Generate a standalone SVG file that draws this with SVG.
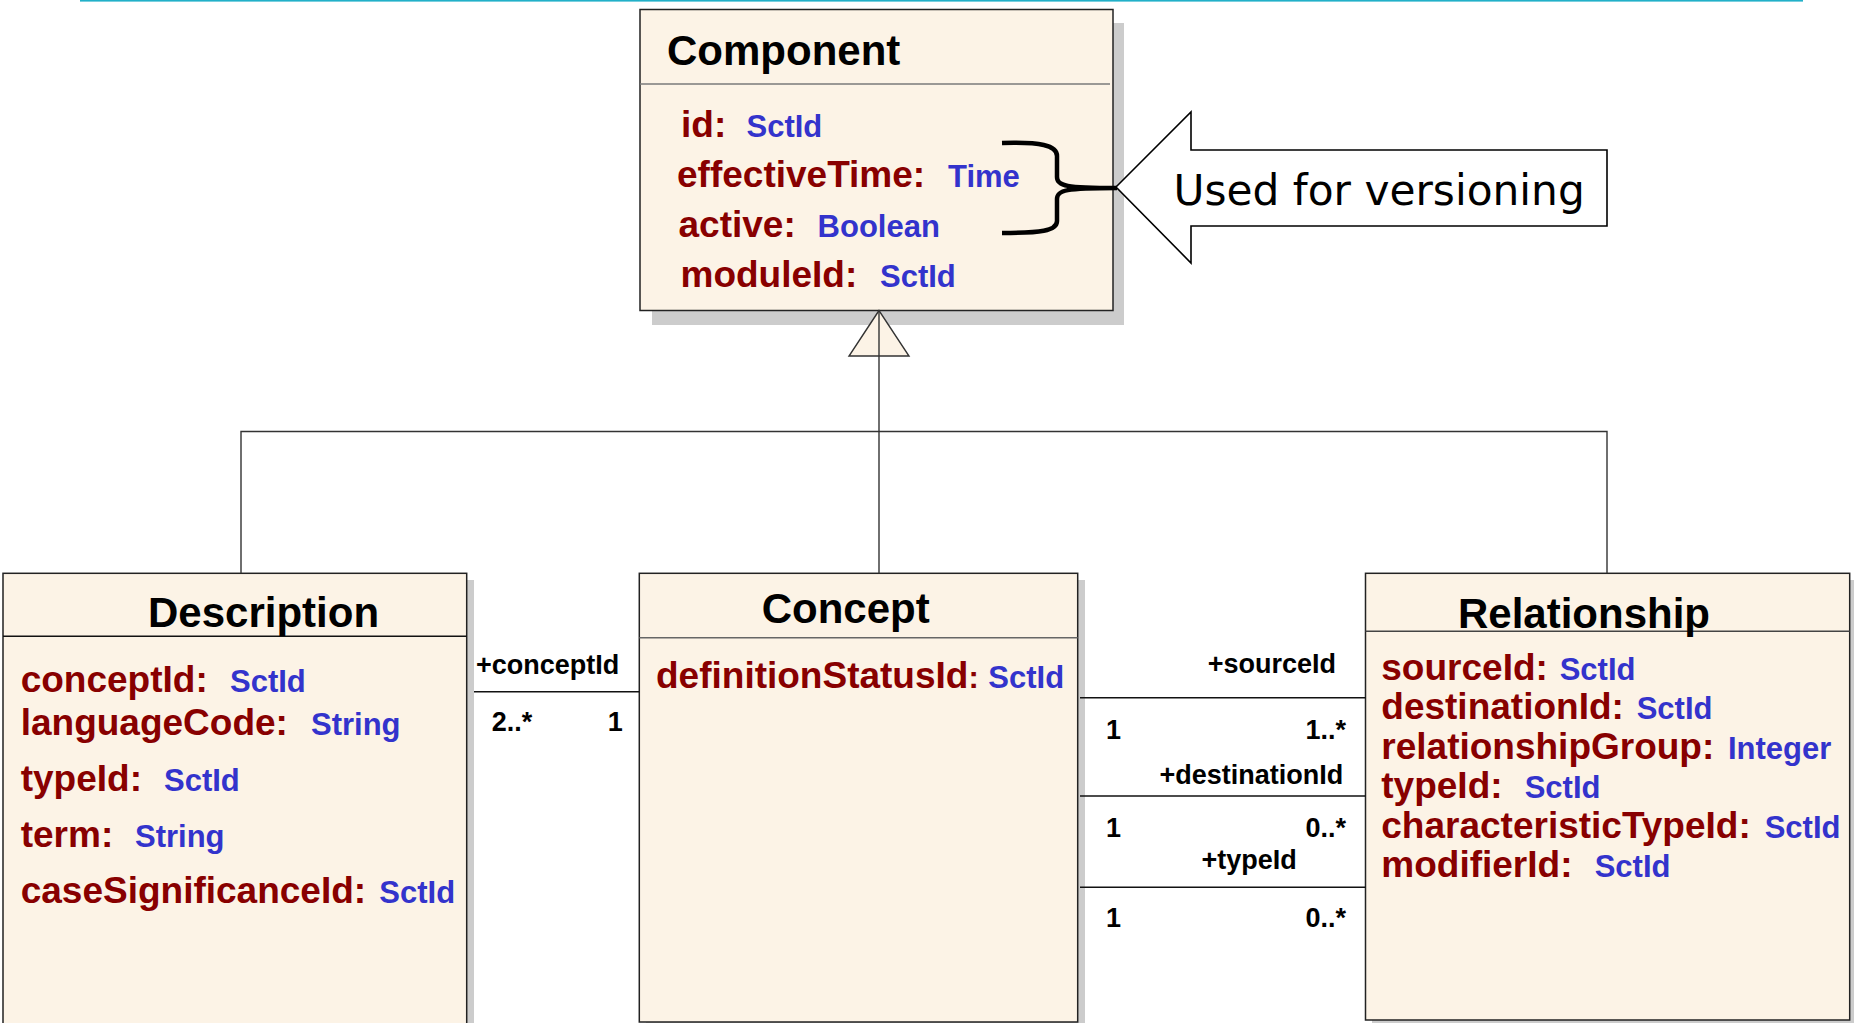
<svg xmlns="http://www.w3.org/2000/svg" width="1854" height="1023" viewBox="0 0 1854 1023">
<style>
.box{fill:#fcf3e6;stroke:#222;stroke-width:1.5}
.shadow{fill:#cccccc}
.div{stroke:#555;stroke-width:1.5}
.title{font-family:"Liberation Sans",Arial,sans-serif;font-weight:bold;font-size:42px;fill:#000}
.nm{font-family:"Liberation Sans",Arial,sans-serif;font-weight:bold;font-size:37px;fill:#880000}
.ty{font-family:"Liberation Sans",Arial,sans-serif;font-weight:bold;font-size:31px;fill:#3333cc}
.lbl{font-family:"Liberation Sans",Arial,sans-serif;font-weight:bold;font-size:27px;fill:#000}
.end{text-anchor:end}
.conn{fill:none;stroke:#333;stroke-width:1.4}
.assoc{fill:none;stroke:#111;stroke-width:1.6}
</style>
<rect x="80" y="0" width="1723" height="1.6" fill="#22b0c8"/>

<g id="component">
  <rect class="shadow" x="652" y="23" width="472" height="302"/>
  <rect class="box" x="640" y="9.5" width="473" height="301"/>
  <line class="div" x1="640" y1="84" x2="1110" y2="84" style="stroke:#7a7a7a"/>
  <text class="title" x="667" y="65">Component</text>
  <text class="nm" x="681" y="137">id:</text><text class="ty" x="746.5" y="137">SctId</text>
  <text class="nm" x="677" y="187">effectiveTime:</text><text class="ty" x="948" y="187">Time</text>
  <text class="nm" x="678.5" y="237">active:</text><text class="ty" x="817.6" y="237">Boolean</text>
  <text class="nm" x="680.5" y="287">moduleId:</text><text class="ty" x="880" y="287">SctId</text>
</g>

<g id="versioning-note">
  <path d="M1002,143 C1040,142 1057,145 1057,156 L1057,177 C1057,186 1066,188 1117,188 C1066,188 1057,190 1057,199 L1057,221 C1057,231 1040,233 1002,233" fill="none" stroke="#000" stroke-width="4.5"/>
  <polygon points="1116,187 1191,112 1191,150 1607,150 1607,226 1191,226 1191,263" fill="#fff" stroke="#000" stroke-width="1.6"/>
  <text x="1173.5" y="205" font-family="DejaVu Sans, Verdana, sans-serif" font-size="42.3" fill="#000">Used for versioning</text>
</g>

<g id="description">
  <rect class="shadow" x="10" y="580" width="464" height="460"/>
  <rect class="box" x="3" y="573.3" width="463.7" height="470"/>
  <line class="div" x1="3" y1="636.3" x2="466.7" y2="636.3" style="stroke:#111"/>
  <text class="title" x="148" y="626.7">Description</text>
  <text class="nm" x="20.7" y="691.7">conceptId:</text><text class="ty" x="230" y="691.7">SctId</text>
  <text class="nm" x="20.7" y="735">languageCode:</text><text class="ty" x="311" y="735">String</text>
  <text class="nm" x="20.7" y="791">typeId:</text><text class="ty" x="164" y="791">SctId</text>
  <text class="nm" x="20.7" y="846.7">term:</text><text class="ty" x="135" y="846.7">String</text>
  <text class="nm" x="20.7" y="903.3">caseSignificanceId:</text><text class="ty" x="379.3" y="903.3">SctId</text>
</g>

<g id="concept">
  <rect class="shadow" x="646" y="580" width="439" height="450"/>
  <rect class="box" x="639.3" y="573.3" width="438.4" height="448.7"/>
  <line class="div" x1="639.3" y1="637.7" x2="1077.7" y2="637.7" style="stroke:#666"/>
  <text class="title" x="761.7" y="623.3">Concept</text>
  <text class="nm" x="656" y="688.3">definitionStatusId<tspan font-size="31">:</tspan></text><text class="ty" x="988.3" y="688.3">SctId</text>
</g>

<g id="relationship">
  <rect class="shadow" x="1372" y="580" width="485" height="447"/>
  <rect class="box" x="1365.5" y="573.3" width="484.2" height="446.7"/>
  <line class="div" x1="1365.5" y1="631.3" x2="1849.7" y2="631.3" style="stroke:#444"/>
  <text class="title" x="1458" y="628.3">Relationship</text>
  <text class="nm" x="1381.3" y="680">sourceId:</text><text class="ty" x="1559.7" y="680">SctId</text>
  <text class="nm" x="1381.3" y="719.3">destinationId:</text><text class="ty" x="1636.7" y="719.3">SctId</text>
  <text class="nm" x="1381.3" y="759.3">relationshipGroup:</text><text class="ty" x="1728" y="759.3">Integer</text>
  <text class="nm" x="1381.3" y="798.3">typeId:</text><text class="ty" x="1524.7" y="798.3">SctId</text>
  <text class="nm" x="1381.3" y="837.7">characteristicTypeId:</text><text class="ty" x="1764.7" y="837.7">SctId</text>
  <text class="nm" x="1381.3" y="877.3">modifierId:</text><text class="ty" x="1594.7" y="877.3">SctId</text>
</g>

<g id="connectors">
  <polyline class="conn" points="241,573.3 241,431.5 1607,431.5 1607,573.3"/>
  <polygon points="879,310.5 849,356 909,356" fill="#fcf3e6" stroke="#333" stroke-width="1.4"/>
  <line class="conn" x1="879" y1="310.5" x2="879" y2="573.3"/>
  <line class="assoc" x1="474" y1="691.7" x2="639.3" y2="691.7"/>
  <line class="assoc" x1="1080" y1="697.7" x2="1365.5" y2="697.7"/>
  <line class="assoc" x1="1080" y1="796" x2="1365.5" y2="796"/>
  <line class="assoc" x1="1080" y1="887.3" x2="1365.5" y2="887.3"/>
  <text class="lbl" x="476" y="674.3">+conceptId</text>
  <text class="lbl" x="491.7" y="730.7">2..*</text>
  <text class="lbl end" x="622.7" y="730.7">1</text>
  <text class="lbl end" x="1336" y="673.3">+sourceId</text>
  <text class="lbl" x="1106" y="739.3">1</text>
  <text class="lbl end" x="1346" y="739.3">1..*</text>
  <text class="lbl end" x="1343.3" y="784.3">+destinationId</text>
  <text class="lbl" x="1106" y="836.7">1</text>
  <text class="lbl end" x="1346" y="836.7">0..*</text>
  <text class="lbl end" x="1296.7" y="869.3">+typeId</text>
  <text class="lbl" x="1106" y="926.7">1</text>
  <text class="lbl end" x="1346" y="926.7">0..*</text>
</g>
</svg>
